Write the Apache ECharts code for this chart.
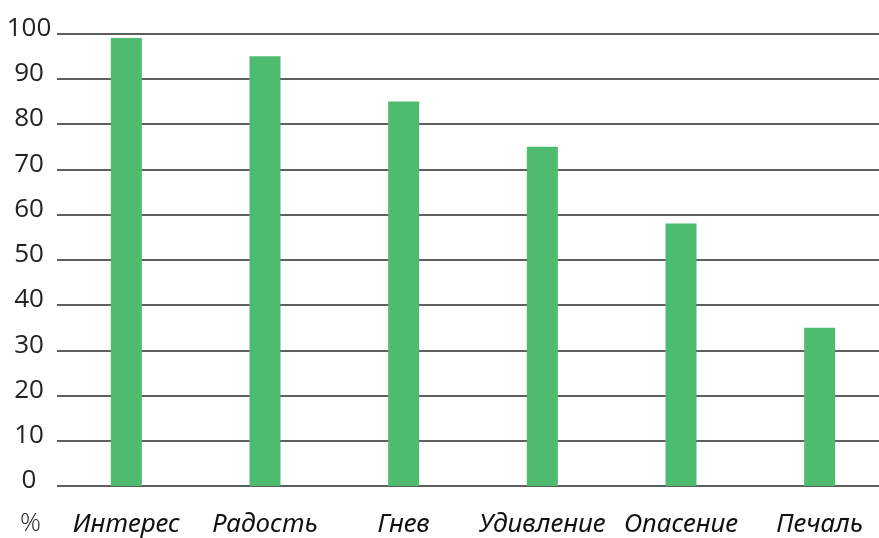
<!DOCTYPE html>
<html>
<head>
<meta charset="utf-8">
<script src="https://cdn.jsdelivr.net/npm/echarts@6/dist/echarts.min.js"></script>
<style>
  html, body { margin: 0; padding: 0; background: #fff; overflow: hidden; }
  #main { width: 890px; height: 538px; }
</style>
</head>
<body>
<div id="main"></div>
<script>
/*категории и значения*/
var categories = ['Интерес', 'Радость', 'Гнев', 'Удивление', 'Опасение', 'Печаль'];
var values = [99, 95, 85, 75, 58, 35];
var yMin = 0, yMax = 100, yStep = 10;

var chart = echarts.init(document.getElementById('main'));
chart.setOption({
    animation: false,
    grid: { left: 57, right: 1, top: 33.5, bottom: 51 },
    xAxis: {
        type: 'category',
        data: categories,
        axisLine: { show: false },
        axisTick: { show: false },
        axisLabel: {
            interval: 0,
            margin: 26,
            fontSize: 26,
            fontStyle: 'italic',
            fontFamily: 'Noto Sans',
            color: '#111'
        }
    },
    yAxis: {
        type: 'value',
        min: yMin,
        max: yMax,
        interval: yStep,
        axisLine: { show: false },
        axisTick: { show: false },
        splitLine: { lineStyle: { color: '#2a2a2a', width: 1.5 } },
        axisLabel: {
            margin: 28,
            align: 'center',
            verticalAlign: 'bottom',
            lineHeight: 10,
            fontSize: 26,
            fontFamily: 'Open Sans',
            fontWeight: 400,
            color: '#222'
        }
    },
    series: [{
        type: 'bar',
        data: values,
        barWidth: 31,
        itemStyle: { color: '#4fbb6e' }
    }],
    graphic: [{
        type: 'text',
        left: 20,
        top: 511,
        style: { text: '%', fontSize: 26, fontFamily: 'Open Sans', fontWeight: 300, fill: '#222' }
    }]
});
</script>
</body>
</html>
